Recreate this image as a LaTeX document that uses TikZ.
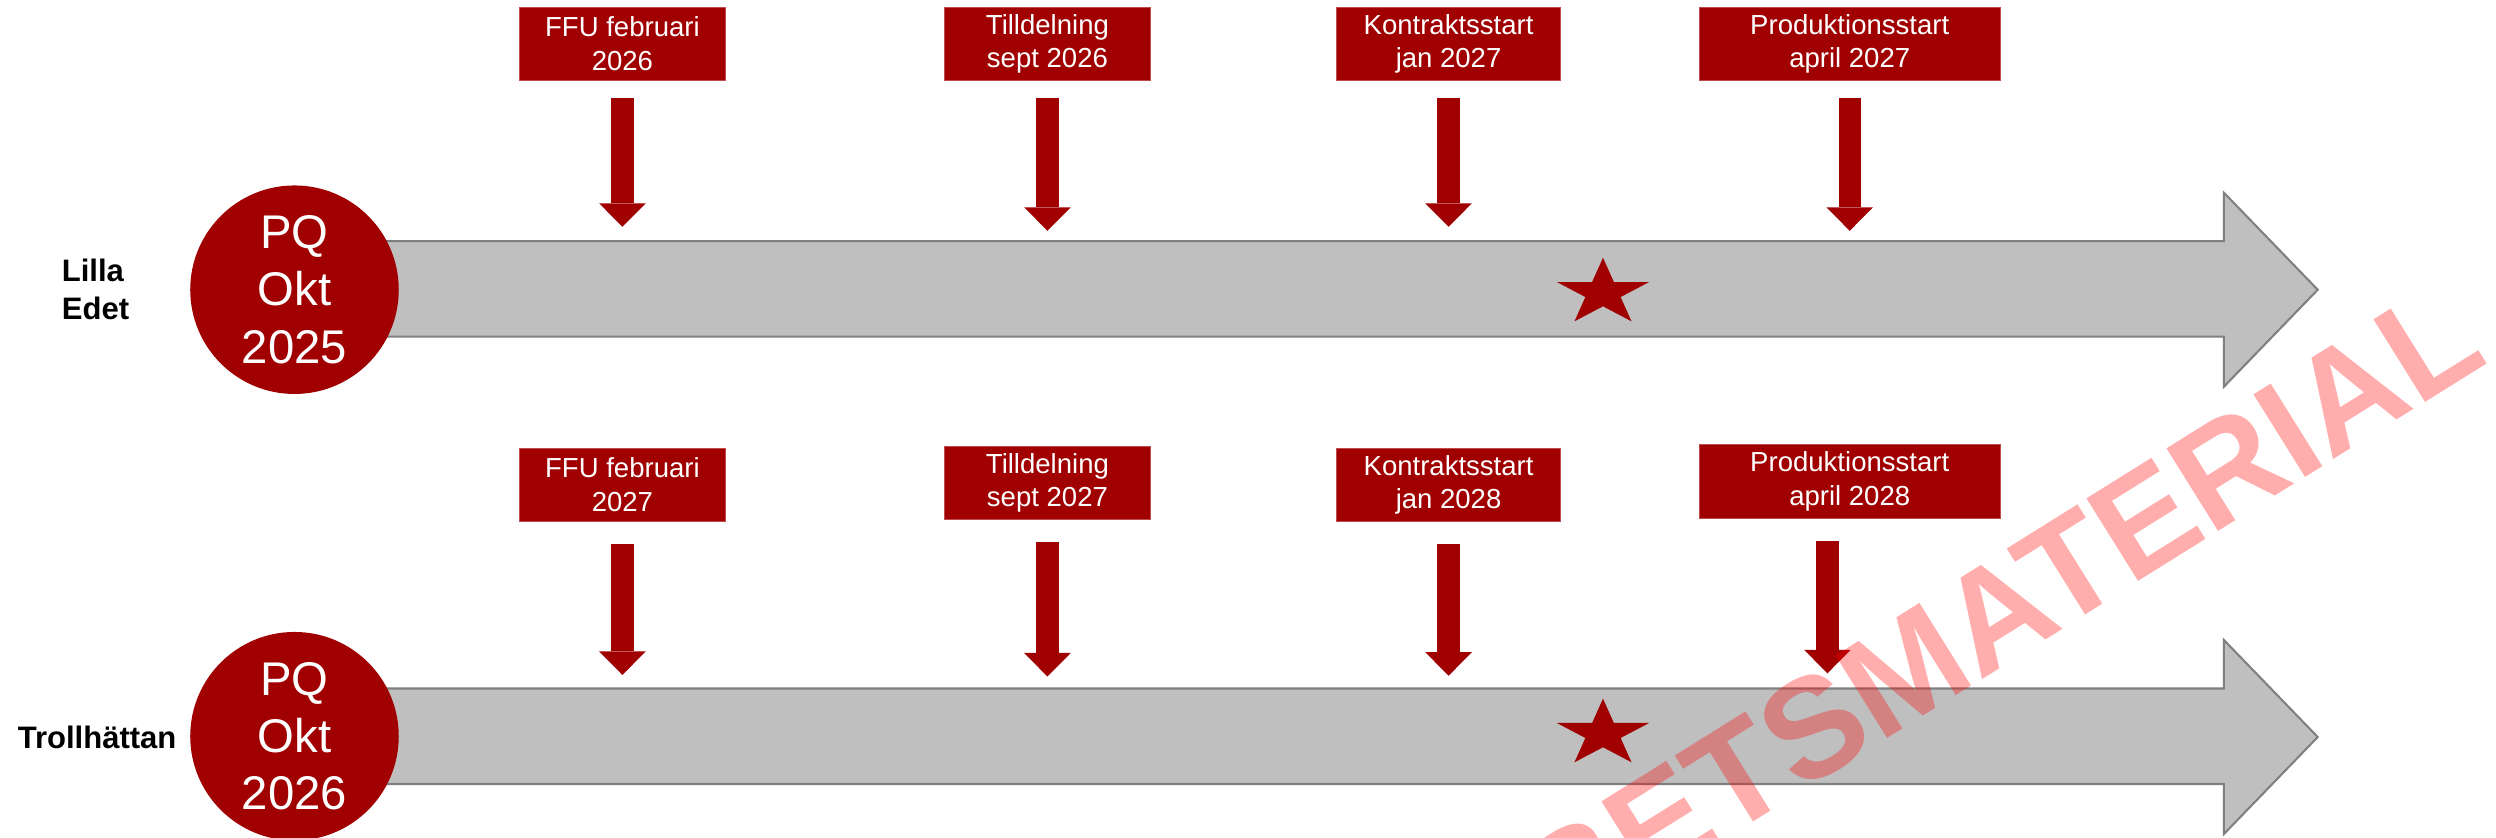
\documentclass[tikz,border=0pt]{standalone}
\usepackage{fontspec}
\setmainfont{Liberation Sans}
\usetikzlibrary{arrows.meta}

\definecolor{pqred}{RGB}{160,0,0}
\definecolor{bargray}{RGB}{191,191,191}
\definecolor{bardraw}{RGB}{128,128,128}

\tikzset{
  datebox/.style={rectangle, fill=pqred, draw=pqred!70!white, line width=0.6pt,
    text=white, align=center, minimum height=46pt, inner sep=0pt,
    font=\fontsize{17.3}{21}\selectfont},
  pqcircle/.style={circle, fill=pqred, minimum size=131pt, inner sep=0pt,
    text=white, align=center, font=\fontsize{29.7}{36}\selectfont},
  rowlabel/.style={align=left, inner sep=0pt, font=\fontsize{19.5}{24}\selectfont\bfseries},
  downarrow/.style={pqred, line width=14pt,
    -{Triangle[width=29.3pt,length=14.8pt,line width=0pt]}},
  timebar/.style={fill=bargray, draw=bardraw, line width=1.3pt},
}

\begin{document}
\begin{tikzpicture}[x=1pt,y=-1pt]
  \useasboundingbox (0,0) rectangle (1568,526);

  % the two time bars
  \draw[timebar] (235,151.5) -- (1397,151.5) -- (1397,121) -- (1456,182)
    -- (1397,243) -- (1397,211.5) -- (235,211.5) -- cycle;
  \draw[timebar] (235,432.5) -- (1397,432.5) -- (1397,402) -- (1456,463)
    -- (1397,524) -- (1397,492.5) -- (235,492.5) -- cycle;

  % stars
  \foreach \y in {184,461}
    \fill[pqred, shift={(1007,\y)}, xscale=1.38] (270:22.1)
      \foreach \a in {1,...,9} { -- ({270+36*\a}:{mod(\a,2)==0 ? 22.1 : 8.44}) } -- cycle;

  % Lilla Edet
  \node[rowlabel] (siteA) at (60,182) {Lilla\\Edet};
  \node[pqcircle] (pqA) at (185,182) {PQ\\Okt\\2025};
  \node[datebox, minimum width=129pt] (ffuA) at (391,27.5) {FFU februari\\2026};
  \node[datebox, minimum width=129pt] (tillA) at (658,27.5) {Tilldelning\\sept 2026};
  \node[datebox, minimum width=141pt] (kontA) at (910,27.5) {Kontraktsstart\\jan 2027};
  \node[datebox, minimum width=189pt] (prodA) at (1162,27.5) {Produktionsstart\\april 2027};
  \coordinate (ffuA tip) at (391,142.5);
  \coordinate (tillA tip) at (658,145);
  \coordinate (kontA tip) at (910,142.5);
  \coordinate (prodA tip) at (1162,145);

  % Trollhattan
  \node[rowlabel] (siteB) at (61,463) {Trollhättan};
  \node[pqcircle] (pqB) at (185,462.5) {PQ\\Okt\\2026};
  \node[datebox, minimum width=129pt] (ffuB) at (391,304.5) {FFU februari\\2027};
  \node[datebox, minimum width=129pt] (tillB) at (658,303.5) {Tilldelning\\sept 2027};
  \node[datebox, minimum width=141pt] (kontB) at (910,304.5) {Kontraktsstart\\jan 2028};
  \node[datebox, minimum width=189pt] (prodB) at (1162,302.5) {Produktionsstart\\april 2028};
  \coordinate (ffuB tip) at (391,424);
  \coordinate (tillB tip) at (658,425);
  \coordinate (kontB tip) at (910,424.5);
  \coordinate (prodB tip) at (1148,423);

  \foreach \b in {ffuA,tillA,kontA,prodA}
    \draw[downarrow, shorten <=11pt] (\b\space tip |- \b.south) -- (\b\space tip);
  \foreach \b in {ffuB,tillB,kontB,prodB}
    \draw[downarrow, shorten <=14pt] (\b\space tip |- \b.south) -- (\b\space tip);

  % watermark
  \node[rotate=32, anchor=base east, inner sep=0pt, text=red, text opacity=0.32,
    font=\fontsize{89}{100}\selectfont\bfseries] (mark) at (1565,227) {ARBETSMATERIAL};
\end{tikzpicture}
\end{document}
